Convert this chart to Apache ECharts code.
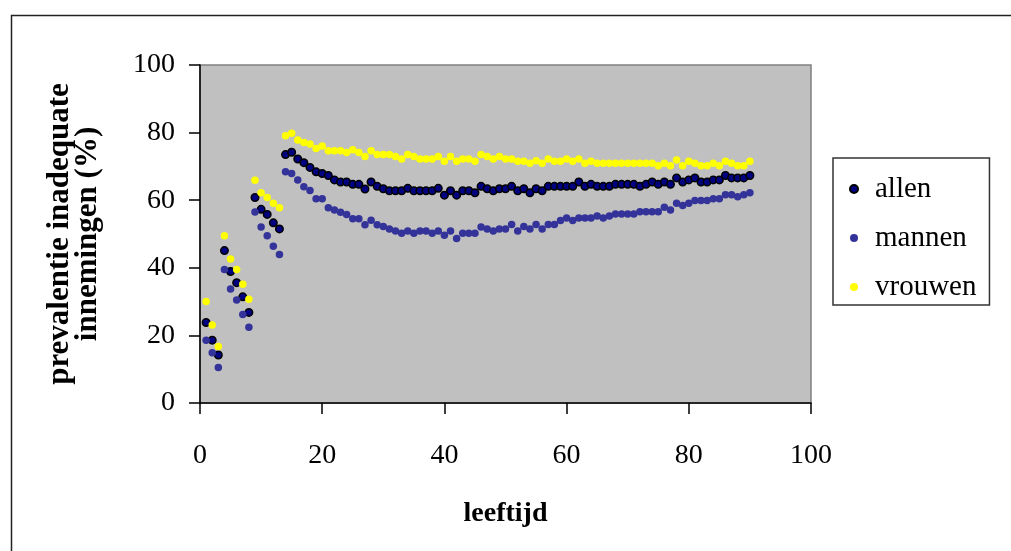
<!DOCTYPE html>
<html>
<head>
<meta charset="utf-8">
<script src="https://cdn.jsdelivr.net/npm/echarts@6/dist/echarts.min.js"></script>
<style>
html,body{margin:0;padding:0;background:#fff;}
#chart{width:1011px;height:551px;}
</style>
</head>
<body>
<div id="chart"></div>
<script>
var ages = [1,2,3,4,5,6,7,8,9,10,11,12,13,14,15,16,17,18,19,20,21,22,23,24,25,26,27,28,29,30,
31,32,33,34,35,36,37,38,39,40,41,42,43,44,45,46,47,48,49,50,51,52,53,54,55,56,57,58,59,60,
61,62,63,64,65,66,67,68,69,70,71,72,73,74,75,76,77,78,79,80,81,82,83,84,85,86,87,88,89,90];

var allen = [23.8,18.6,14.2,45.1,38.9,35.6,31.4,26.8,60.8,57.3,55.8,53.3,51.5,73.5,74.2,72.2,71.1,69.7,68.4,67.9,
67.3,66.0,65.4,65.4,64.7,64.7,63.3,65.4,64.1,63.4,62.8,62.8,62.8,63.5,62.8,62.8,62.8,62.8,63.5,61.5,
62.8,61.5,62.8,62.8,62.2,64.1,63.4,62.8,63.4,63.4,64.1,62.8,63.4,62.2,63.4,62.8,64.1,64.1,64.1,64.1,
64.1,65.4,64.1,64.7,64.1,64.1,64.1,64.7,64.7,64.7,64.7,64.1,64.7,65.4,64.7,65.4,64.7,66.6,65.4,66.0,
66.6,65.4,65.4,66.0,66.0,67.3,66.6,66.6,66.6,67.3];

var mannen = [18.6,14.9,10.5,39.5,33.7,30.5,26.2,22.4,56.5,52.1,49.5,46.4,43.9,68.4,67.9,66.0,64.0,62.9,60.4,60.4,
57.8,57.1,56.4,55.8,54.5,54.5,52.7,54.1,52.7,52.2,51.5,50.9,50.2,50.9,50.2,50.9,50.9,50.2,50.9,49.6,
50.9,48.7,50.2,50.2,50.2,52.1,51.5,50.9,51.5,51.5,52.8,50.9,52.2,51.5,52.8,51.5,52.8,52.8,54.0,54.7,
54.0,54.7,54.7,54.7,55.3,54.7,55.3,55.9,55.9,55.9,55.9,56.6,56.6,56.6,56.6,57.9,57.1,59.1,58.4,59.1,
59.9,59.9,59.9,60.4,60.4,61.6,61.6,61.0,61.6,62.2];

var vrouwen = [30.0,23.1,16.7,49.5,42.6,39.5,35.1,30.7,65.9,62.2,60.8,59.1,57.8,79.1,79.8,77.8,77.1,76.6,75.3,76.0,
74.6,74.6,74.6,74.1,74.9,74.1,72.9,74.6,73.5,73.5,73.5,72.9,72.2,73.5,72.9,72.2,72.2,72.2,72.9,71.5,
72.9,71.5,72.2,72.2,71.5,73.5,72.9,72.2,72.9,72.2,72.2,71.5,71.5,70.9,71.7,70.9,72.2,71.5,71.5,72.2,
71.5,72.2,70.9,71.5,70.9,70.9,70.9,70.9,70.9,70.9,70.9,70.9,70.9,70.9,70.2,70.9,70.2,71.9,70.2,71.5,
70.9,70.2,70.2,70.9,70.2,71.5,70.9,70.2,70.2,71.5];

var seriesNames = ['allen','mannen','vrouwen'];
var xTitle = 'leeftijd';
var yTitle = 'prevalentie inadequate\ninnemingen (%)';

function pairs(vals){ return ages.map(function(a,i){ return [a, vals[i]]; }); }

var font = 'Liberation Serif, Times New Roman, serif';
var chart = echarts.init(document.getElementById('chart'));
chart.setOption({
  animation:false,
  backgroundColor:'#ffffff',
  graphic:[{
    type:'rect', left:9, top:13, z:-10,
    shape:{x:0,y:0,width:1100,height:600},
    style:{fill:'none', stroke:'#222', lineWidth:1.5}
  }],
  grid:{left:200, right:200, top:65, bottom:148, show:true,
        backgroundColor:'#c0c0c0', borderColor:'#808080', borderWidth:1.5},
  xAxis:{
    type:'value', min:0, max:100, interval:20,
    name:xTitle, nameLocation:'middle', nameGap:97,
    nameTextStyle:{fontFamily:font, fontSize:28, fontWeight:'bold', color:'#000'},
    axisLine:{show:true, onZero:false, lineStyle:{color:'#000', width:1.5}},
    axisTick:{show:true, length:11, lineStyle:{color:'#000', width:1.5}},
    axisLabel:{fontFamily:font, fontSize:28, color:'#000', margin:39},
    splitLine:{show:false}
  },
  yAxis:{
    type:'value', min:0, max:100, interval:20,
    name:yTitle, nameLocation:'middle', nameGap:98,
    nameTextStyle:{fontFamily:font, fontSize:31, fontWeight:'bold', color:'#000', lineHeight:28},
    axisLine:{show:true, onZero:false, lineStyle:{color:'#000', width:1.5}},
    axisTick:{show:true, length:11, lineStyle:{color:'#000', width:1.5}},
    axisLabel:{fontFamily:font, fontSize:28, color:'#000', margin:25},
    splitLine:{show:false}
  },
  legend:{
    orient:'vertical', left:833, top:158,
    padding:[16,13,3,16],
    itemWidth:32, itemHeight:8, itemGap:19,
    backgroundColor:'#fff', borderColor:'#333', borderWidth:1.5,
    icon:'circle',
    textStyle:{fontFamily:font, fontSize:29, color:'#000', lineHeight:30},
    data:seriesNames
  },
  series:[
    {name:seriesNames[0], type:'scatter', data:pairs(allen), symbolSize:7.5,
     itemStyle:{color:'#000080', borderColor:'#000', borderWidth:1.5, opacity:1}},
    {name:seriesNames[1], type:'scatter', data:pairs(mannen), symbolSize:7.5,
     itemStyle:{color:'#333399', opacity:1}},
    {name:seriesNames[2], type:'scatter', data:pairs(vrouwen), symbolSize:7.5,
     itemStyle:{color:'#ffff00', opacity:1}}
  ]
});
</script>
</body>
</html>
